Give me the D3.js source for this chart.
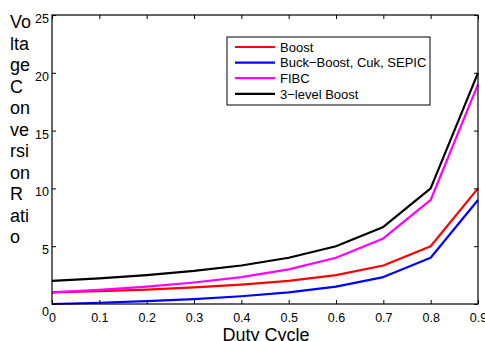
<!DOCTYPE html>
<html><head><meta charset="utf-8">
<script src="https://cdn.jsdelivr.net/npm/d3@7"></script>
<style>body{margin:0;background:#fff;}svg{display:block;}</style>
</head><body>
<svg id="c" width="485" height="341"></svg>
<script>
const duty = [0, 0.1, 0.2, 0.3, 0.4, 0.5, 0.6, 0.7, 0.8, 0.9];
const boost = [1, 1.11, 1.25, 1.43, 1.67, 2, 2.5, 3.33, 5, 10];
const buckBoost = [0, 0.11, 0.25, 0.43, 0.67, 1, 1.5, 2.33, 4, 9];
const fibc = [1, 1.22, 1.5, 1.86, 2.33, 3, 4, 5.67, 9, 19];
const threeLevel = [2, 2.22, 2.5, 2.86, 3.33, 4, 5, 6.67, 10, 20];
const seriesNames = ["Boost", "Buck\u2212Boost, Cuk, SEPIC", "FIBC", "3\u2212level Boost"];
const seriesColors = ["#ff0000", "#0000ff", "#ff00ff", "#000000"];
const xTicks = [0, 0.1, 0.2, 0.3, 0.4, 0.5, 0.6, 0.7, 0.8, 0.9];
const yTicks = [0, 5, 10, 15, 20, 25];
const yLabelParts = ["Vo", "lta", "ge", "C", "on", "ve", "rsi", "on", "R", "ati", "o"];

const svg = d3.select("#c");
const L = 52, R = 478, T = 15, B = 304;
const x = d3.scaleLinear().domain([0, 0.9]).range([L, R]);
const y = d3.scaleLinear().domain([0, 25]).range([B, T]);
const font = "'Liberation Sans', Arial, sans-serif";

const series = [boost, buckBoost, fibc, threeLevel];
const line = d3.line().x((d, i) => x(duty[i])).y(d => y(d));
series.forEach((s, k) => {
  svg.append("path").datum(s).attr("d", line)
    .attr("fill", "none").attr("stroke", seriesColors[k]).attr("stroke-width", 2.2)
    .attr("stroke-linejoin", "round");
});

// frame
svg.append("rect").attr("x", L).attr("y", T).attr("width", R - L).attr("height", B - T)
  .attr("fill", "none").attr("stroke", "#000").attr("stroke-width", 1.2);

// axes with inward ticks
const fmt = d => d === 0 ? "0" : d3.format(".1f")(d);
const bx = svg.append("g").attr("transform", `translate(0,${B})`)
  .call(d3.axisBottom(x).tickValues(xTicks).tickSizeInner(-4).tickSizeOuter(0).tickPadding(9).tickFormat(fmt));
const tx = svg.append("g").attr("transform", `translate(0,${T})`)
  .call(d3.axisTop(x).tickValues(xTicks).tickSizeInner(-4).tickSizeOuter(0).tickFormat(""));
const ly = svg.append("g").attr("transform", `translate(${L},0)`)
  .call(d3.axisLeft(y).tickValues(yTicks).tickSizeInner(-4).tickSizeOuter(0).tickPadding(3));
const ry = svg.append("g").attr("transform", `translate(${R},0)`)
  .call(d3.axisRight(y).tickValues(yTicks).tickSizeInner(-4).tickSizeOuter(0).tickFormat(""));
[bx, tx, ly, ry].forEach(g => {
  g.select(".domain").remove();
  g.selectAll("line").attr("stroke", "#000");
  g.selectAll("text").attr("font-family", font).attr("font-size", 12.5).attr("fill", "#000");
});
ly.selectAll("text").attr("dy", d => d === 0 ? "0.9em" : "0.6em");

// x label
svg.append("text").attr("x", 266).attr("y", 341).attr("text-anchor", "middle")
  .attr("font-family", font).attr("font-size", 18).text("Duty Cycle");

// y label (wrapped)
yLabelParts.forEach((p, i) => {
  svg.append("text").attr("x", 10).attr("y", 28 + i * 21.5)
    .attr("font-family", font).attr("font-size", 18).text(p);
});

// legend
const lg = svg.append("g");
lg.append("rect").attr("x", 227).attr("y", 37).attr("width", 203).attr("height", 68)
  .attr("fill", "#fff").attr("stroke", "#000").attr("stroke-width", 1);
seriesNames.forEach((n, i) => {
  const yy = 47 + i * 15.6;
  lg.append("line").attr("x1", 235).attr("x2", 275).attr("y1", yy).attr("y2", yy)
    .attr("stroke", seriesColors[i]).attr("stroke-width", 2.2);
  lg.append("text").attr("x", 280).attr("y", yy + 4.8)
    .attr("font-family", font).attr("font-size", 13).text(n);
});
</script>
</body></html>
